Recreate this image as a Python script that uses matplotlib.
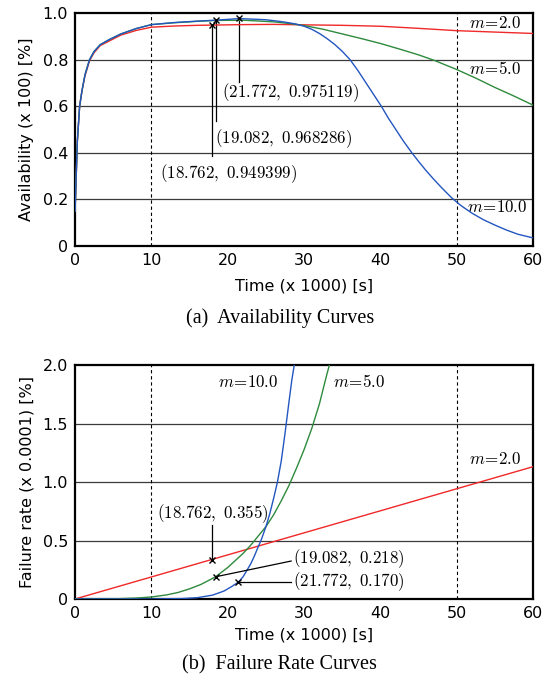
import matplotlib
matplotlib.use("Agg")
import matplotlib.pyplot as plt

plt.rcParams["font.family"] = "DejaVu Sans"
plt.rcParams["mathtext.fontset"] = "cm"

# --- availability curves (time in 1000 s) ---
avail_t_m2 = [0, 0.3, 0.6, 0.9, 1.3, 1.9, 2.5, 3.3, 4.5, 6, 8, 10, 13, 16, 18, 22, 26, 30, 35, 40, 45, 50, 55, 60]
avail_m2 = [0.15, 0.45, 0.6, 0.665, 0.73, 0.795, 0.83, 0.86, 0.88, 0.905, 0.925, 0.939, 0.944, 0.947, 0.948, 0.95, 0.951, 0.949, 0.947, 0.943, 0.934, 0.924, 0.918, 0.912]

avail_t_m5 = [0, 0.3, 0.6, 0.9, 1.3, 1.9, 2.5, 3.3, 4.5, 6, 8, 10, 13, 16, 18.4, 22, 26, 28, 30, 32.5, 35, 37.5, 40, 42.5, 45, 47, 50, 52.5, 55, 57.5, 60]
avail_m5 = [0.15, 0.45, 0.6, 0.665, 0.735, 0.8, 0.835, 0.864, 0.886, 0.91, 0.933, 0.95, 0.958, 0.964, 0.968, 0.969, 0.962, 0.955, 0.946, 0.93, 0.91, 0.89, 0.869, 0.845, 0.82, 0.797, 0.757, 0.72, 0.68, 0.643, 0.604]

avail_t_m10 = [0, 0.3, 0.6, 0.9, 1.3, 1.9, 2.5, 3.3, 4.5, 6, 8, 10, 13, 16, 18.4, 21.5, 25, 27, 28, 29, 30, 31, 32, 33, 34, 35, 36, 37, 38, 39, 40.1, 41, 42, 43, 44.1, 45, 46, 47, 48, 49.3, 50.5, 52, 53.5, 55, 56.5, 58, 60]
avail_m10 = [0.15, 0.45, 0.6, 0.665, 0.735, 0.8, 0.835, 0.864, 0.886, 0.91, 0.933, 0.95, 0.959, 0.965, 0.969, 0.976, 0.971, 0.963, 0.958, 0.952, 0.943, 0.93, 0.912, 0.89, 0.865, 0.835, 0.8, 0.755, 0.705, 0.655, 0.6, 0.55, 0.5, 0.45, 0.4, 0.362, 0.322, 0.285, 0.25, 0.207, 0.174, 0.14, 0.112, 0.089, 0.068, 0.05, 0.034]

avail_mark_t = [17.97, 18.45, 21.47]
avail_mark_v = [0.947, 0.969, 0.977]
avail_labels = ["(18.762, 0.949399)", "(19.082, 0.968286)", "(21.772, 0.975119)"]

# --- failure rate curves (x 0.0001) ---
rate_t_m2 = [0, 60]
rate_m2 = [0.0, 1.133]

rate_t_m5 = [0, 5, 8, 10, 12, 13.5, 15, 16.5, 18.4, 20, 21, 22, 23, 24, 25, 26, 27, 28, 29, 30, 31, 32, 33, 33.3]
rate_m5 = [0, 0.001, 0.008, 0.017, 0.035, 0.056, 0.087, 0.125, 0.19, 0.27, 0.33, 0.39, 0.46, 0.54, 0.62, 0.72, 0.84, 0.97, 1.12, 1.28, 1.46, 1.67, 1.93, 2.0]

rate_t_m10 = [0, 10, 14, 16, 18, 19.5, 20.5, 21.4, 22, 22.5, 23, 23.5, 24, 24.35, 25, 25.5, 26, 26.5, 27, 27.5, 28, 28.4, 28.7]
rate_m10 = [0, 0.0, 0.0035, 0.011, 0.033, 0.068, 0.106, 0.145, 0.19, 0.245, 0.3, 0.37, 0.45, 0.5, 0.62, 0.73, 0.86, 1.0, 1.18, 1.42, 1.68, 1.88, 2.0]

rate_mark_t = [17.97, 18.4, 21.4]
rate_mark_v = [0.338, 0.19, 0.145]
rate_labels = ["(18.762, 0.355)", "(19.082, 0.218)", "(21.772, 0.170)"]

RED = "#f02828"
GREEN = "#2e8a3c"
BLUE = "#2356c0"
GRID = "#3a3a3a"
ANN_FS = 12.2
TICK_FS = 11.5


def math_label(s):
    return "$" + s.replace(" ", r"\ ") + "$"


def style_axes(ax, yticks, ylabels, ymax, xlabel_y):
    ax.set_xlim(0, 60)
    ax.set_ylim(0, ymax)
    ax.set_xticks([0, 10, 20, 30, 40, 50, 60])
    ax.set_yticks(yticks)
    ax.set_yticklabels(ylabels)
    ax.tick_params(length=0, labelsize=TICK_FS, pad=5)
    for y in yticks[1:-1]:
        ax.axhline(y, color=GRID, lw=0.9, zorder=1)
    for x in (10, 50):
        ax.axvline(x, color="black", lw=0.8, ls=(0, (3, 2.5)), zorder=1)
    for sp in ax.spines.values():
        sp.set_linewidth(1.6)
    ax.set_xlabel("Time (x 1000) [s]", fontsize=TICK_FS, va="center")
    ax.xaxis.set_label_coords(0.5, xlabel_y)


fig = plt.figure(figsize=(5.56, 6.83), dpi=100)
ax1 = fig.add_axes([0.135, 0.640, 0.824, 0.341])
ax2 = fig.add_axes([0.135, 0.123, 0.824, 0.342])

# top: availability
style_axes(ax1, [0, 0.2, 0.4, 0.6, 0.8, 1.0], ["0", "0.2", "0.4", "0.6", "0.8", "1.0"], 1.0, -0.171)
ax1.plot(avail_t_m2, avail_m2, color=RED, lw=1.0, zorder=3)
ax1.plot(avail_t_m5, avail_m5, color=GREEN, lw=1.0, zorder=3)
ax1.plot(avail_t_m10, avail_m10, color=BLUE, lw=1.0, zorder=4)
ax1.plot(avail_mark_t, avail_mark_v, "x", color="black", ms=4, mew=1.0, zorder=5)
ax1.set_ylabel("Availability (x 100) [%]", fontsize=TICK_FS, va="center")
ax1.yaxis.set_label_coords(-0.105, 0.5)

avail_text_xy = [(11.1, 0.312), (18.3, 0.462), (19.25, 0.66)]
avail_line_end = [0.385, 0.535, 0.705]
for tx, vy, lab, (xt, yt), ye in zip(avail_mark_t, avail_mark_v, avail_labels, avail_text_xy, avail_line_end):
    ax1.plot([tx, tx], [vy, ye], color="black", lw=0.9, zorder=2)
    ax1.text(xt, yt, math_label(lab), fontsize=ANN_FS, ha="left", va="center")

ax1.text(51.6, 0.955, r"$m\!=\!2.0$", fontsize=ANN_FS, ha="left", va="center")
ax1.text(51.6, 0.76, r"$m\!=\!5.0$", fontsize=ANN_FS, ha="left", va="center")
ax1.text(51.3, 0.165, r"$m\!=\!10.0$", fontsize=ANN_FS, ha="left", va="center")

# bottom: failure rate
style_axes(ax2, [0, 0.5, 1.0, 1.5, 2.0], ["0", "0.5", "1.0", "1.5", "2.0"], 2.0, -0.155)
ax2.plot(rate_t_m2, rate_m2, color=RED, lw=1.0, zorder=3)
ax2.plot(rate_t_m5, rate_m5, color=GREEN, lw=1.0, zorder=3)
ax2.plot(rate_t_m10, rate_m10, color=BLUE, lw=1.0, zorder=4)
ax2.plot(rate_mark_t, rate_mark_v, "x", color="black", ms=4, mew=1.0, zorder=5)
ax2.set_ylabel("Failure rate (x 0.0001) [%]", fontsize=TICK_FS, va="center")
ax2.yaxis.set_label_coords(-0.105, 0.5)

# annotation lines
ax2.plot([rate_mark_t[0], rate_mark_t[0]], [rate_mark_v[0], 0.63], color="black", lw=0.9, zorder=5)
ax2.plot([rate_mark_t[1], 28.3], [rate_mark_v[1], 0.325], color="black", lw=0.9, zorder=5)
ax2.plot([rate_mark_t[2], 28.3], [rate_mark_v[2], rate_mark_v[2]], color="black", lw=0.9, zorder=5)
ax2.text(10.7, 0.73, math_label(rate_labels[0]), fontsize=ANN_FS, ha="left", va="center")
ax2.text(28.5, 0.343, math_label(rate_labels[1]), fontsize=ANN_FS, ha="left", va="center")
ax2.text(28.5, 0.145, math_label(rate_labels[2]), fontsize=ANN_FS, ha="left", va="center")

ax2.text(18.7, 1.855, r"$m\!=\!10.0$", fontsize=ANN_FS, ha="left", va="center")
ax2.text(33.8, 1.855, r"$m\!=\!5.0$", fontsize=ANN_FS, ha="left", va="center")
ax2.text(51.6, 1.2, r"$m\!=\!2.0$", fontsize=ANN_FS, ha="left", va="center")

fig.text(0.503, 1 - 318 / 683, "(a)  Availability Curves", fontsize=14.5,
         family="Liberation Serif", ha="center", va="center")
fig.text(0.503, 1 - 665 / 683, "(b)  Failure Rate Curves", fontsize=14.5,
         family="Liberation Serif", ha="center", va="center")

fig.savefig("out.png", dpi=100)
